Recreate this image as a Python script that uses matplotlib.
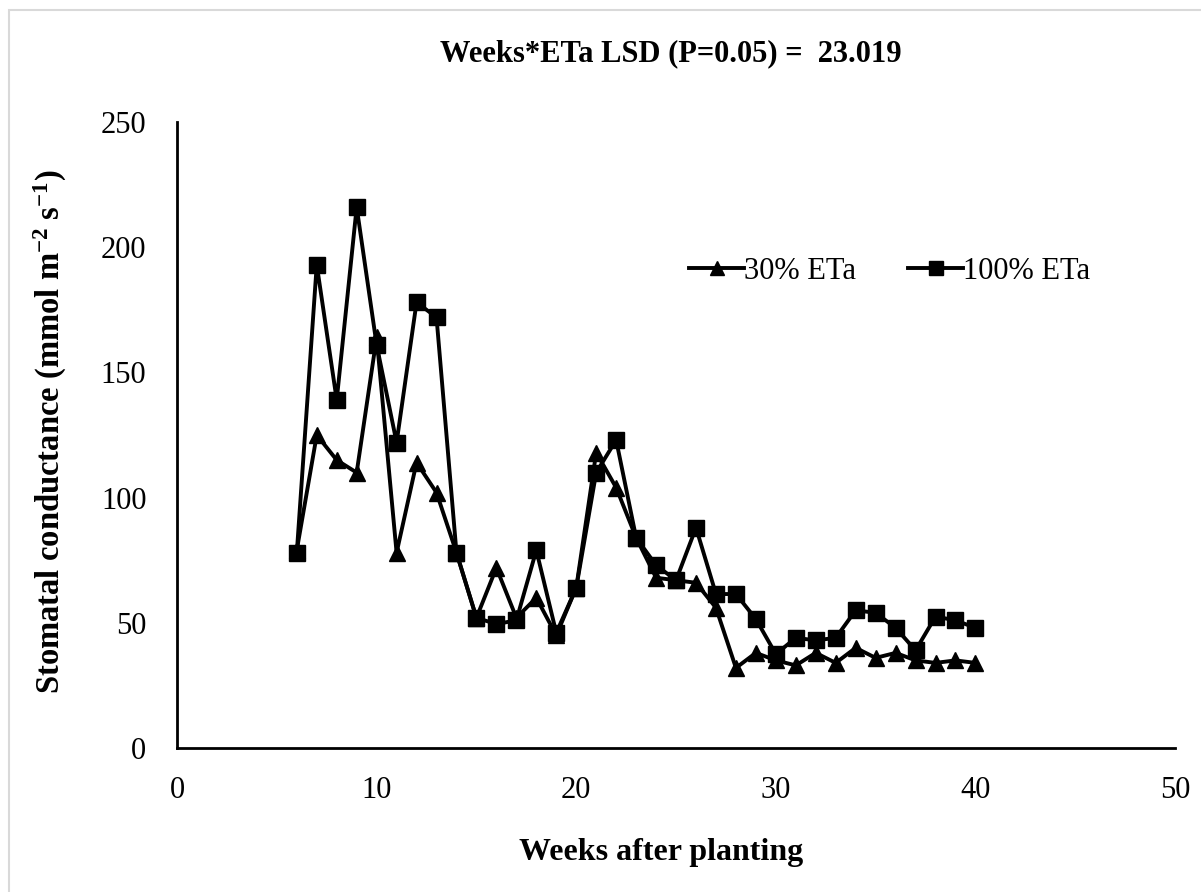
import matplotlib
matplotlib.use("Agg")
import matplotlib.pyplot as plt
from matplotlib.patches import Rectangle

weeks = list(range(6, 41))

eta_30 = [79, 125, 115, 110, 164, 78, 114, 102, 78, 52, 72, 52, 60, 45, 64,
          118, 104, 84, 68, 67, 66, 56, 32, 38, 35, 33, 38, 34, 40, 36, 38,
          35, 34, 35, 34]

eta_100 = [78, 193, 139, 216, 161, 122, 178, 172, 78, 52, 49.5, 51, 79, 46, 64,
           110, 123, 84, 73, 67, 88, 61.5, 61.5, 51.5, 37.5, 44, 43, 44, 55, 54,
           48, 39, 52.5, 51, 48]

x_ticks = [0, 10, 20, 30, 40, 50]
y_ticks = [0, 50, 100, 150, 200, 250]

plt.rcParams["font.family"] = ["Liberation Serif", "DejaVu Serif"]
plt.rcParams["mathtext.fontset"] = "custom"
plt.rcParams["mathtext.rm"] = "Liberation Serif:bold"
plt.rcParams["mathtext.it"] = "Liberation Serif:bold"

fig = plt.figure(figsize=(12.01, 8.92), dpi=100)
ax = fig.add_axes([0.1474, 0.1614, 0.8310, 0.7018])

ax.plot(weeks, eta_30, color="black", lw=2.8, marker="^", ms=12,
        label="30% ETa", zorder=3)
ax.plot(weeks, eta_100, color="black", lw=2.8, marker="s", ms=12,
        label="100% ETa", zorder=4)

ax.set_xlim(0, 50)
ax.set_ylim(0, 250)
ax.set_xticks(x_ticks)
ax.set_yticks(y_ticks)
ax.tick_params(axis="both", length=0, labelsize=22)
ax.tick_params(axis="x", pad=20)
ax.tick_params(axis="y", pad=22)
for side in ("top", "right"):
    ax.spines[side].set_visible(False)
for side in ("left", "bottom"):
    ax.spines[side].set_linewidth(2)

ax.set_xlabel("Weeks after planting", fontsize=23, fontweight="bold")
ax.xaxis.set_label_coords(0.485, -0.143)
ax.set_ylabel(r"Stomatal conductance (mmol m$^{-2}$ s$^{-1}$)", fontsize=23.5,
              fontweight="bold")
ax.yaxis.set_label_coords(-0.108, 0.505)

fig.text(0.5585, 0.940, "Weeks*ETa LSD (P=0.05) =  23.019", ha="center",
         va="center", fontsize=22, fontweight="bold")

leg = ax.legend(loc="center left", bbox_to_anchor=(0.498, 0.762), ncol=2,
                frameon=False, fontsize=22, handlelength=1.8, borderpad=0,
                handletextpad=0.0, columnspacing=1.7, markerscale=0.8)

fig.patches.append(Rectangle((0.0075, -0.01), 1.0, 0.9987, transform=fig.transFigure,
                             fill=False, edgecolor="#d9d9d9", lw=1.5))

fig.savefig("out.png", dpi=100)
